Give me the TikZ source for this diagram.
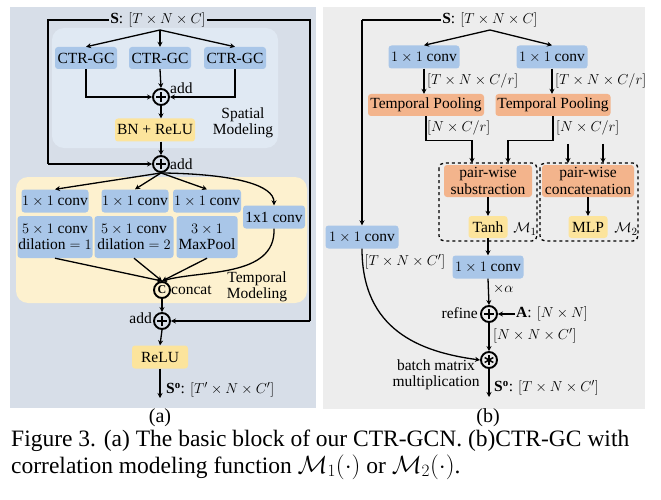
\documentclass[tikz,border=0pt]{standalone}
\usepackage{fontspec}
\setmainfont{Liberation Serif}
\usetikzlibrary{arrows.meta,calc}
\definecolor{bgA}{HTML}{D7DEE8}
\definecolor{bgB}{HTML}{EDEDED}
\definecolor{spbg}{HTML}{E0E9F3}
\definecolor{tmbg}{HTML}{FDF1CF}
\definecolor{boxblue}{HTML}{A9C6E8}
\definecolor{boxyel}{HTML}{FCE49C}
\definecolor{boxor}{HTML}{F3B48C}
\tikzset{
  blk/.style={rounded corners=3pt, minimum height=22pt, inner sep=0.5pt, align=center, font=\fontsize{15.5}{16.5}\selectfont},
  bluebox/.style={blk, fill=boxblue},
  yelbox/.style={blk, fill=boxyel},
  orbox/.style={blk, fill=boxor},
  conn/.style={line width=1.3pt, -{Stealth[length=5pt,width=5pt]}},
  plain/.style={line width=1.3pt},
  lbl/.style={inner sep=1pt, font=\fontsize{15.5}{16.5}\selectfont},
  opc/.style={circle, draw, line width=1.9pt, minimum size=16pt, inner sep=0pt},
  addop/.style={opc, path picture={
     \draw[line width=1.9pt] ([xshift=-5pt]path picture bounding box.center) -- ([xshift=5pt]path picture bounding box.center);
     \draw[line width=1.9pt] ([yshift=-5pt]path picture bounding box.center) -- ([yshift=5pt]path picture bounding box.center);}},
  mulop/.style={opc, path picture={
     \foreach \a in {90,30,150}{\draw[line width=1.5pt] ($(path picture bounding box.center)+(\a:5pt)$) -- ($(path picture bounding box.center)+(\a+180:5pt)$);}}},
  catop/.style={opc, font=\bfseries\fontsize{12}{12}\selectfont},
  dashbox/.style={draw, dashed, line width=1.3pt, rounded corners=5pt},
  captxt/.style={anchor=base west, inner sep=0pt, font=\fontsize{23.5}{24}\selectfont}
}
\begin{document}
\begin{tikzpicture}[x=1pt,y=-1pt]
\useasboundingbox (0,0) rectangle (661,500);
% ---------------- panel (a)
\fill[bgA] (10,7) rectangle (316,408);
\fill[spbg, rounded corners=12pt] (52,28) rectangle (278,148);
\fill[tmbg, rounded corners=12pt] (16,177) rectangle (307,303);

\node[lbl] (SA) at (158,20) {$\mathbf{S}$: $[T\times N\times C]$};
\coordinate (splitA) at (160,30);
\node[bluebox, minimum width=62pt] (ctr1) at (86,58) {CTR-GC};
\node[bluebox, minimum width=62pt] (ctr2) at (160,58) {CTR-GC};
\node[bluebox, minimum width=62pt] (ctr3) at (235,58) {CTR-GC};
\node[addop] (add1) at (161,97) {};
\node[lbl, anchor=west] (add1l) at (169,88) {add};
\node[yelbox, minimum width=80pt, minimum height=23pt] (bn) at (155,130) {BN + ReLU};
\node[lbl, align=center] (spl) at (243,123) {Spatial\\Modeling};
\node[addop] (add2) at (161,164) {};
\node[lbl, anchor=west] (add2l) at (169,164) {add};

\node[bluebox, minimum width=67pt, minimum height=23pt] (c1) at (55,201) {$1\times1$ conv};
\node[bluebox, minimum width=67pt, minimum height=23pt] (c2) at (135,201) {$1\times1$ conv};
\node[bluebox, minimum width=68pt, minimum height=23pt] (c3) at (207,201) {$1\times1$ conv};
\node[bluebox, minimum width=62pt, minimum height=23pt] (c4) at (274,217) {1x1 conv};
\node[bluebox, minimum width=75pt, minimum height=42pt] (d1) at (55,237) {$5\times1$ conv\\dilation $=1$};
\node[bluebox, minimum width=79pt, minimum height=42pt] (d2) at (134,237) {$5\times1$ conv\\dilation $=2$};
\node[bluebox, minimum width=61pt, minimum height=42pt] (d3) at (207,237) {$3\times1$\\MaxPool};
\node[catop] (cat) at (162,290) {C};
\node[lbl, anchor=west] (catl) at (170,290) {concat};
\node[lbl, align=center] (tml) at (257,287) {Temporal\\Modeling};
\node[addop] (add3) at (162,321) {};
\node[lbl, anchor=east] (add3l) at (153,318) {add};
\node[yelbox, minimum width=56pt, minimum height=23pt] (relu) at (160,357) {ReLU};
\coordinate (outA) at (160,398);
\node[lbl, anchor=west] (SoA) at (165,390) {$\mathbf{S^{o}}$: $[T'\times N\times C']$};
\node[font=\fontsize{20}{20}\selectfont] (capa) at (160,418) {(a)};

\draw[plain] (SA.west) -- (48,20) -- (48,164);
\draw[conn] (48,164) -- (add2.west);
\draw[plain] (SA.east) -- (310,20) -- (310,321);
\draw[conn] (310,321) -- (add3.east);
\draw[conn] (splitA) -- (ctr1.north);
\draw[conn] (splitA) -- (ctr2.north);
\draw[conn] (splitA) -- (ctr3.north);
\draw[conn] (ctr1.south) |- (add1.west);
\draw[conn] (ctr2.south) -- (add1.north);
\draw[conn] (ctr3.south) |- (add1.east);
\draw[conn] (add1.south) -- (add1.south |- bn.north);
\draw[conn] (add1.south |- bn.south) -- (add2.north);
\draw[conn] (add2.south) -- (c1.north);
\draw[conn] (add2.south) -- (c2.north);
\draw[conn] (add2.south) -- (c3.north);
\draw[conn] (add2.south) .. controls (235,174) and (274,185) .. (c4.north);
\draw[conn] (d1.south) -- (cat.north);
\draw[conn] (d2.south) -- (cat.north);
\draw[conn] (d3.south) -- (cat.north);
\draw[conn] (c4.south) .. controls (276,278) and (200,270) .. (cat.north);
\draw[conn] (cat.south) -- (add3.north);
\draw[conn] (add3.south) -- (relu.north);
\draw[conn] (relu.south) -- (outA);

% ---------------- panel (b)
\fill[bgB] (323,7) rectangle (645,409);
\node[lbl] (SB) at (490,20) {$\mathbf{S}$: $[T\times N\times C]$};
\coordinate (splitB) at (490,30);
\node[bluebox, minimum width=71pt, minimum height=23pt] (k1) at (424,57) {$1\times1$ conv};
\node[bluebox, minimum width=71pt, minimum height=23pt] (k2) at (552,57) {$1\times1$ conv};
\node[orbox, minimum width=116pt] (tp1) at (426,105) {Temporal Pooling};
\node[orbox, minimum width=115pt] (tp2) at (553,105) {Temporal Pooling};
\node[lbl, anchor=west] (l1) at (426,81) {$[T\times N\times C/r]$};
\node[lbl, anchor=west] (l2) at (554,81) {$[T\times N\times C/r]$};
\node[lbl, anchor=west] (l3) at (426,128) {$[N\times C/r]$};
\node[lbl, anchor=west] (l4) at (555,128) {$[N\times C/r]$};
\draw[dashbox] (439,163) rectangle (537,241);
\draw[dashbox] (540,163) rectangle (638,241);
\node[orbox, minimum width=88pt, minimum height=32pt] (pws) at (488,181) {pair-wise\\substraction};
\node[orbox, minimum width=92pt, minimum height=32pt] (pwc) at (588,181) {pair-wise\\concatenation};
\node[yelbox, minimum width=39pt] (tanh) at (488,227) {Tanh};
\node[yelbox, minimum width=39pt] (mlp) at (588,227) {MLP};
\node[lbl] (m1) at (525,229) {$\mathcal{M}_1$};
\node[lbl] (m2) at (626,229) {$\mathcal{M}_2$};
\node[bluebox, minimum width=71pt, minimum height=23pt] (mc) at (488,267) {$1\times1$ conv};
\node[lbl, anchor=west] (alpha) at (492,289) {$\times\alpha$};
\node[addop] (ref) at (489,314) {};
\node[lbl, anchor=east] (refl) at (479,313) {refine};
\node[lbl, anchor=west] (A) at (515,314) {$\mathbf{A}$: $[N\times N]$};
\node[lbl, anchor=west] (l5) at (492,336) {$[N\times N\times C']$};
\node[mulop] (bmm) at (489,360) {};
\node[lbl, align=center] (bmml) at (436,375) {batch matrix\\multiplication};
\coordinate (outB) at (489,397);
\node[lbl, anchor=west] (SoB) at (493,388) {$\mathbf{S^{o}}$: $[T\times N\times C']$};
\node[bluebox, minimum width=73pt, minimum height=23pt] (lc) at (362,237) {$1\times1$ conv};
\node[lbl] (l6) at (405,262) {$[T\times N\times C']$};
\node[font=\fontsize{20}{20}\selectfont] (capb) at (488,418) {(b)};

\draw[plain] (SB.west) -- (362,20);
\draw[conn] (362,20) -- (lc.north);
\draw[conn] (splitB) -- (k1.north);
\draw[conn] (splitB) -- (k2.north);
\draw[conn] (k1.south) -- (k1.south |- tp1.north);
\draw[conn] (k2.south) -- (k2.south |- tp2.north);
\draw[conn] (tp1.south) -- ++(0,24) -| (472,163);
\draw[conn] (tp2.south) -- ++(0,24) -| (508,163);
\draw[conn] (568,144) -- (568,163);
\draw[conn] (603,144) -- (603,163);
\draw[conn] (pws.south) -- (tanh.north);
\draw[conn] (pwc.south) -- (mlp.north);
\draw[conn] (tanh.south) -- (mc.north);
\draw[conn] (mc.south) -- (ref.north);
\draw[conn] (A.west) -- (ref.east);
\draw[conn] (ref.south) -- (bmm.north);
\draw[conn] (lc.south) .. controls (362,330) and (420,352) .. (bmm.west);
\draw[conn] (bmm.south) -- (outB);

% ---------------- caption
\node[captxt] (cap1) at (11,446) {Figure 3. (a) The basic block of our CTR-GCN. (b)CTR-GC with};
\node[captxt] (cap2) at (11,473) {correlation modeling function $\mathcal{M}_1(\cdot)$ or $\mathcal{M}_2(\cdot)$.};
\end{tikzpicture}
\end{document}
